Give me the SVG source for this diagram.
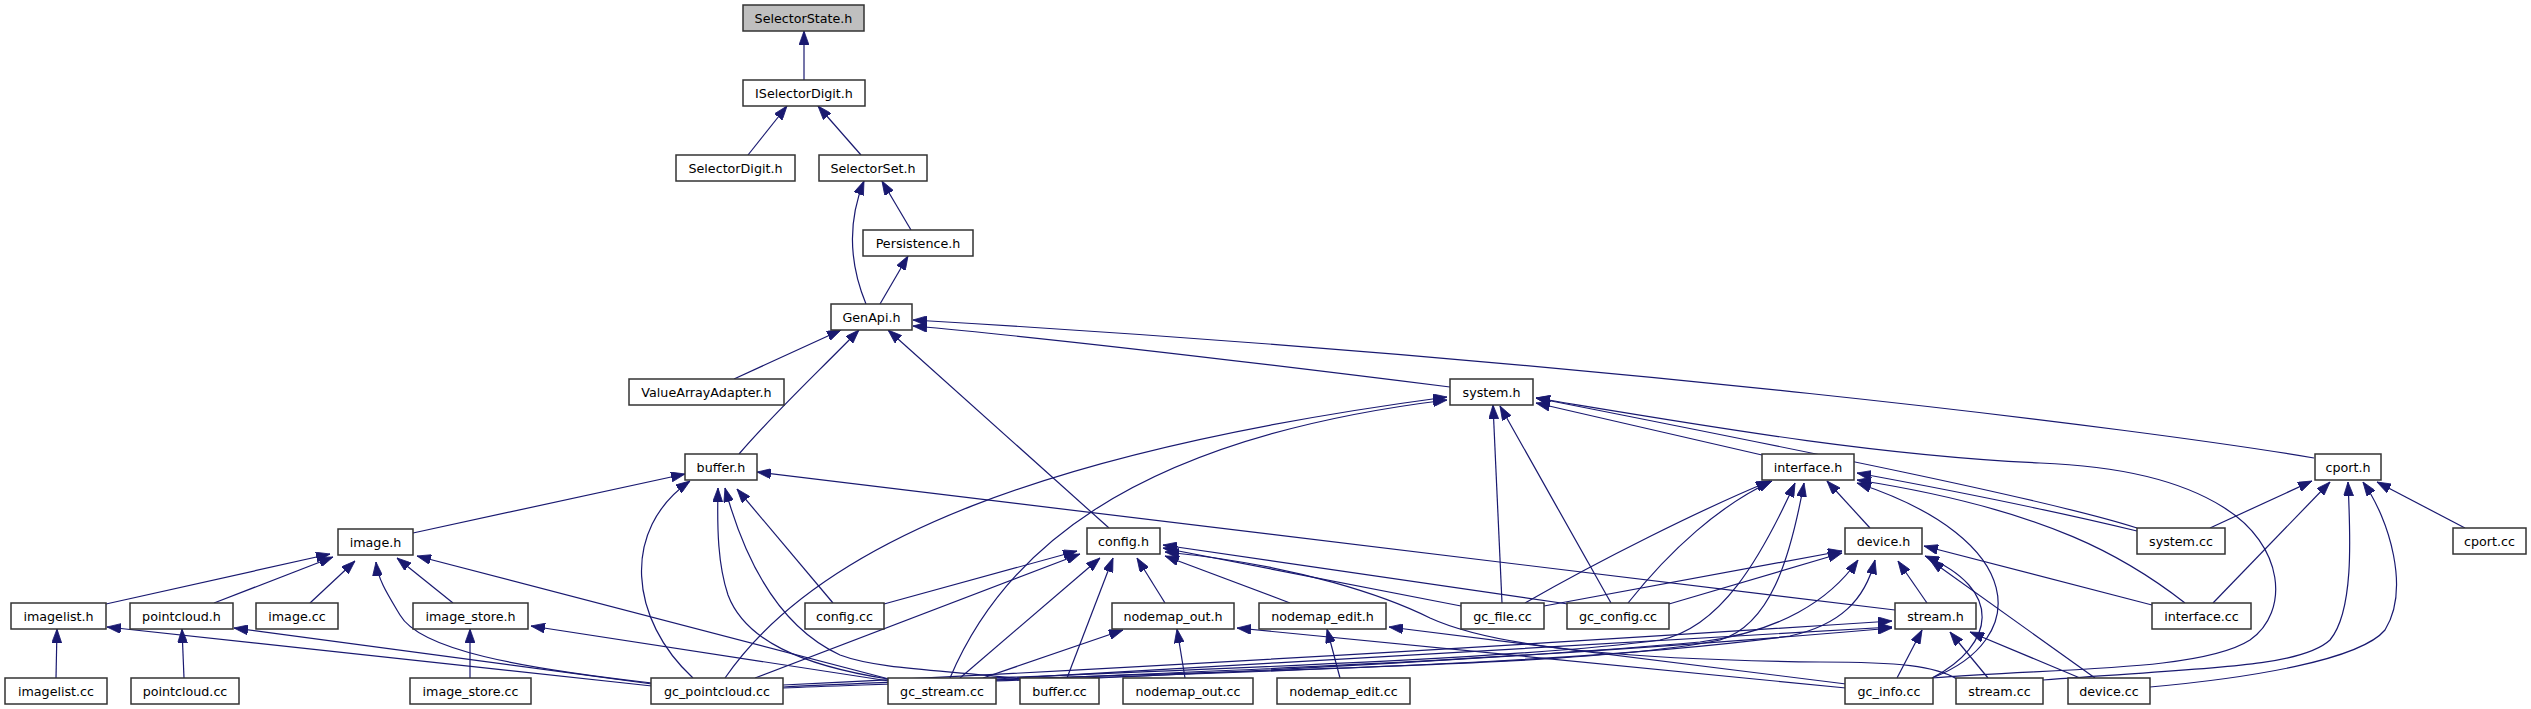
<svg xmlns="http://www.w3.org/2000/svg" width="2531" height="709" viewBox="0 0 2531 709">
<defs>
<marker id="ah" markerUnits="userSpaceOnUse" viewBox="0 0 14 10" refX="14" refY="5" markerWidth="14" markerHeight="10" orient="auto">
<path d="M0,0 L14,5 L0,10 z" fill="#191970" stroke="#191970" stroke-width="0.8"/>
</marker>
</defs>
<style>
.n rect{fill:#fff;stroke:#333;stroke-width:1.5}
.n.root rect{fill:#bfbfbf}
.n text{font-family:"DejaVu Sans",sans-serif;font-size:12.7px;fill:#000;text-anchor:middle}
.e path{fill:none;stroke:#191970;stroke-width:1.2;marker-end:url(#ah)}
</style>
<rect width="2531" height="709" fill="#fff"/>
<g class="e" id="edges">
<path d="M804,80 L804,31"/>
<path d="M748,155 L787,106"/>
<path d="M861,155 L818,106"/>
<path d="M911,230 L882,181"/>
<path d="M866,304 C852,270 845,228 864,181"/>
<path d="M880,304 L908,256"/>
<path d="M734,379 L841,330"/>
<path d="M739,454 C775,412 815,375 859,330"/>
<path d="M1109,528 L888,330"/>
<path d="M1450,387 C1250,362 1050,338 913,326"/>
<path d="M2314,458 C2150,430 1600,360 913,320"/>
<path d="M413,533 L685,474"/>
<path d="M1895,610 L757,472"/>
<path d="M693,678 C630,620 620,530 690,481"/>
<path d="M888,679 C800,665 745,640 728,595 C718,565 717,530 718,488"/>
<path d="M1021,679 C950,670 880,670 840,655 C790,632 750,580 725,488"/>
<path d="M833,603 L737,489"/>
<path d="M106,604 L330,554"/>
<path d="M214,603 L333,557"/>
<path d="M310,603 L355,561"/>
<path d="M453,603 L397,558"/>
<path d="M652,683 C520,668 420,650 400,615 C388,595 378,580 376,562"/>
<path d="M889,679 L417,556"/>
<path d="M56,678 L57,629"/>
<path d="M652,686 L107,627"/>
<path d="M184,678 L182,629"/>
<path d="M652,684 L234,628"/>
<path d="M470,678 L470,629"/>
<path d="M889,681 L531,626"/>
<path d="M884,604 L1077,551"/>
<path d="M755,678 L1080,554"/>
<path d="M960,678 L1100,558"/>
<path d="M1067,678 L1113,558"/>
<path d="M1165,603 L1137,558"/>
<path d="M1290,603 L1165,556"/>
<path d="M1461,606 L1163,548"/>
<path d="M1568,604 L1163,545"/>
<path d="M1957,679 C1935,666 1900,662 1820,662 C1650,660 1500,650 1430,618 C1390,598 1300,565 1165,552"/>
<path d="M725,678 C820,540 1050,450 1447,397"/>
<path d="M950,678 C1000,560 1120,440 1447,400"/>
<path d="M1502,603 L1493,405"/>
<path d="M1611,603 L1500,406"/>
<path d="M1762,455 L1536,403"/>
<path d="M2137,528 C2050,500 1800,450 1536,398"/>
<path d="M1932,678 C2050,668 2200,672 2250,640 C2290,612 2285,545 2223,507 C2180,480 2120,466 2040,463 C1870,455 1700,425 1536,398"/>
<path d="M1870,528 L1827,481"/>
<path d="M1525,603 C1600,560 1700,510 1770,481"/>
<path d="M1628,603 C1670,550 1720,505 1772,481"/>
<path d="M783,687 C1100,672 1500,662 1660,640 C1720,628 1760,560 1795,483"/>
<path d="M996,680 C1300,668 1600,665 1720,640 C1770,625 1790,560 1804,483"/>
<path d="M2137,531 C2050,510 1950,490 1857,473"/>
<path d="M2185,603 C2130,560 2050,510 1857,480"/>
<path d="M1932,678 C2030,640 2030,540 1857,483"/>
<path d="M1544,606 L1842,551"/>
<path d="M1669,604 L1842,553"/>
<path d="M783,688 C1100,676 1450,664 1700,642 C1780,632 1830,600 1858,560"/>
<path d="M996,681 C1300,670 1600,662 1790,636 C1840,625 1865,600 1875,560"/>
<path d="M1927,603 L1898,561"/>
<path d="M1932,678 C1995,645 2005,590 1925,556"/>
<path d="M2095,678 L1930,560"/>
<path d="M2152,605 L1924,546"/>
<path d="M783,685 C1200,665 1600,640 1892,621"/>
<path d="M996,679 C1300,662 1650,640 1892,627"/>
<path d="M1098,678 C1400,665 1700,645 1892,628"/>
<path d="M1897,678 L1922,630"/>
<path d="M1988,678 L1950,632"/>
<path d="M2080,678 L1970,632"/>
<path d="M983,678 L1123,630"/>
<path d="M1185,678 L1177,629"/>
<path d="M1846,688 L1237,628"/>
<path d="M1340,678 L1327,629"/>
<path d="M1846,684 L1389,627"/>
<path d="M2210,528 L2312,481"/>
<path d="M2213,603 L2330,482"/>
<path d="M2043,680 C2200,668 2300,668 2330,640 C2355,610 2350,530 2348,482"/>
<path d="M2150,687 C2250,678 2360,660 2385,630 C2410,590 2390,520 2363,482"/>
<path d="M2465,528 L2377,482"/>
</g>
<g class="n root" id="SelectorState_h"><rect x="743" y="5" width="121" height="26"/><text x="803.5" y="22.5">SelectorState.h</text></g>
<g class="n" id="ISelectorDigit_h"><rect x="743" y="80" width="122" height="26"/><text x="804" y="97.5">ISelectorDigit.h</text></g>
<g class="n" id="SelectorDigit_h"><rect x="676" y="155" width="119" height="26"/><text x="735.5" y="172.5">SelectorDigit.h</text></g>
<g class="n" id="SelectorSet_h"><rect x="819" y="155" width="108" height="26"/><text x="873" y="172.5">SelectorSet.h</text></g>
<g class="n" id="Persistence_h"><rect x="863" y="230" width="110" height="26"/><text x="918" y="247.5">Persistence.h</text></g>
<g class="n" id="GenApi_h"><rect x="831" y="304" width="81" height="26"/><text x="871.5" y="321.5">GenApi.h</text></g>
<g class="n" id="ValueArrayAdapter_h"><rect x="629" y="379" width="155" height="26"/><text x="706.5" y="396.5">ValueArrayAdapter.h</text></g>
<g class="n" id="system_h"><rect x="1450" y="379" width="83" height="26"/><text x="1491.5" y="396.5">system.h</text></g>
<g class="n" id="buffer_h"><rect x="685" y="454" width="72" height="26"/><text x="721" y="471.5">buffer.h</text></g>
<g class="n" id="interface_h"><rect x="1762" y="454" width="92" height="26"/><text x="1808" y="471.5">interface.h</text></g>
<g class="n" id="cport_h"><rect x="2315" y="454" width="66" height="26"/><text x="2348" y="471.5">cport.h</text></g>
<g class="n" id="image_h"><rect x="338" y="529" width="75" height="26"/><text x="375.5" y="546.5">image.h</text></g>
<g class="n" id="config_h"><rect x="1087" y="528" width="73" height="26"/><text x="1123.5" y="545.5">config.h</text></g>
<g class="n" id="device_h"><rect x="1845" y="528" width="77" height="26"/><text x="1883.5" y="545.5">device.h</text></g>
<g class="n" id="system_cc"><rect x="2137" y="528" width="88" height="26"/><text x="2181" y="545.5">system.cc</text></g>
<g class="n" id="cport_cc"><rect x="2453" y="528" width="73" height="26"/><text x="2489.5" y="545.5">cport.cc</text></g>
<g class="n" id="imagelist_h"><rect x="11" y="603" width="95" height="26"/><text x="58.5" y="620.5">imagelist.h</text></g>
<g class="n" id="pointcloud_h"><rect x="130" y="603" width="103" height="26"/><text x="181.5" y="620.5">pointcloud.h</text></g>
<g class="n" id="image_cc"><rect x="256" y="603" width="82" height="26"/><text x="297" y="620.5">image.cc</text></g>
<g class="n" id="image_store_h"><rect x="413" y="603" width="115" height="26"/><text x="470.5" y="620.5">image_store.h</text></g>
<g class="n" id="config_cc"><rect x="805" y="603" width="79" height="26"/><text x="844.5" y="620.5">config.cc</text></g>
<g class="n" id="nodemap_out_h"><rect x="1112" y="603" width="122" height="26"/><text x="1173" y="620.5">nodemap_out.h</text></g>
<g class="n" id="nodemap_edit_h"><rect x="1259" y="603" width="127" height="26"/><text x="1322.5" y="620.5">nodemap_edit.h</text></g>
<g class="n" id="gc_file_cc"><rect x="1461" y="603" width="83" height="26"/><text x="1502.5" y="620.5">gc_file.cc</text></g>
<g class="n" id="gc_config_cc"><rect x="1567" y="603" width="102" height="26"/><text x="1618" y="620.5">gc_config.cc</text></g>
<g class="n" id="stream_h"><rect x="1895" y="603" width="81" height="26"/><text x="1935.5" y="620.5">stream.h</text></g>
<g class="n" id="interface_cc"><rect x="2152" y="603" width="99" height="26"/><text x="2201.5" y="620.5">interface.cc</text></g>
<g class="n" id="imagelist_cc"><rect x="5" y="678" width="102" height="26"/><text x="56" y="695.5">imagelist.cc</text></g>
<g class="n" id="pointcloud_cc"><rect x="131" y="678" width="108" height="26"/><text x="185" y="695.5">pointcloud.cc</text></g>
<g class="n" id="image_store_cc"><rect x="410" y="678" width="121" height="26"/><text x="470.5" y="695.5">image_store.cc</text></g>
<g class="n" id="gc_pointcloud_cc"><rect x="651" y="678" width="132" height="26"/><text x="717" y="695.5">gc_pointcloud.cc</text></g>
<g class="n" id="gc_stream_cc"><rect x="888" y="678" width="108" height="26"/><text x="942" y="695.5">gc_stream.cc</text></g>
<g class="n" id="buffer_cc"><rect x="1020" y="678" width="79" height="26"/><text x="1059.5" y="695.5">buffer.cc</text></g>
<g class="n" id="nodemap_out_cc"><rect x="1123" y="678" width="130" height="26"/><text x="1188" y="695.5">nodemap_out.cc</text></g>
<g class="n" id="nodemap_edit_cc"><rect x="1277" y="678" width="133" height="26"/><text x="1343.5" y="695.5">nodemap_edit.cc</text></g>
<g class="n" id="gc_info_cc"><rect x="1845" y="678" width="88" height="26"/><text x="1889" y="695.5">gc_info.cc</text></g>
<g class="n" id="stream_cc"><rect x="1956" y="678" width="87" height="26"/><text x="1999.5" y="695.5">stream.cc</text></g>
<g class="n" id="device_cc"><rect x="2068" y="678" width="82" height="26"/><text x="2109" y="695.5">device.cc</text></g>
</svg>
